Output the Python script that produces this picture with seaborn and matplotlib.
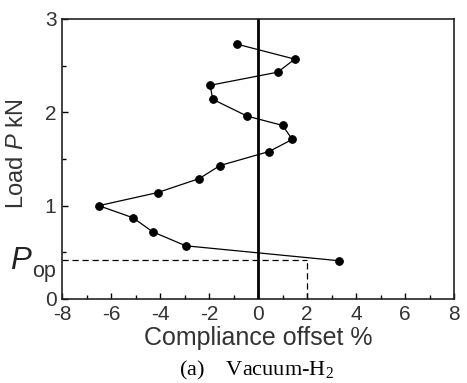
import matplotlib
matplotlib.use("Agg")
import matplotlib.pyplot as plt
import seaborn as sns
import pandas as pd
from matplotlib.ticker import MultipleLocator

# data
offset = [-0.85, 1.5, 0.8, -1.95, -1.85, -0.45, 1.0, 1.4, 0.45, -1.55, -2.4, -4.1, -6.5, -5.1, -4.3, -2.95, 3.3]
load = [2.73, 2.57, 2.43, 2.29, 2.14, 1.96, 1.86, 1.71, 1.58, 1.43, 1.29, 1.14, 1.0, 0.87, 0.72, 0.57, 0.41]
p_op = 0.42
p_op_offset = 2.0
x_ticks = [-8, -6, -4, -2, 0, 2, 4, 6, 8]
y_ticks = [0, 1, 2, 3]

sns.set_theme(style="ticks")
plt.rcParams['font.family'] = ['Liberation Sans', 'DejaVu Sans']
plt.rcParams['axes.unicode_minus'] = False
plt.rcParams['mathtext.fontset'] = 'custom'
plt.rcParams['mathtext.it'] = 'Liberation Sans:italic'
plt.rcParams['mathtext.rm'] = 'Liberation Sans'

W, H = 467, 383
fig = plt.figure(figsize=(W / 100, H / 100), dpi=100)
ax = fig.add_axes([62 / W, 1 - 299 / H, (454 - 62) / W, (299 - 19) / H])

df = pd.DataFrame({"offset": offset, "load": load})
sns.lineplot(data=df, x="offset", y="load", sort=False, estimator=None,
             color="black", lw=0.9, marker="o", markersize=5.5,
             markeredgecolor="black", ax=ax, zorder=4)

ax.axvline(0, color="black", lw=2.0, zorder=3)
ax.plot([-8, p_op_offset], [p_op, p_op], color="black", lw=0.9, ls=(0, (5, 3)), zorder=2)
ax.plot([p_op_offset, p_op_offset], [0, p_op], color="black", lw=0.9, ls=(0, (5, 3)), zorder=2)

ax.set_xlim(-8, 8)
ax.set_ylim(0, 3)
ax.set_xticks(x_ticks)
ax.set_yticks(y_ticks)
ax.xaxis.set_minor_locator(MultipleLocator(1))
ax.yaxis.set_minor_locator(MultipleLocator(0.5))
tc = "#333333"
ax.tick_params(which="both", direction="in", color="black", top=False, right=False)
ax.tick_params(which="major", length=4, width=1.0, labelsize=15, labelcolor=tc)
ax.tick_params(axis="x", which="major", pad=4.5)
ax.tick_params(axis="y", which="major", pad=4)
ax.tick_params(which="minor", length=3, width=1.0)
for s in ax.spines.values():
    s.set_color("#222222")
    s.set_linewidth(1.2)

ax.set_xlabel("Compliance offset %", fontsize=18, color=tc)
ax.xaxis.set_label_coords(0.5, (299 - 326) / 280)
ax.set_ylabel("Load $\\it{P}$ kN", fontsize=17, color=tc)
ax.yaxis.set_label_coords((28 - 62) / 392, 0.52)

fig.text(10 / W, 1 - 269 / H, "P", fontsize=22.5, style="italic", color="#222222",
         ha="left", va="baseline")
fig.text(32 / W, 1 - 276.5 / H, "op", fontsize=15.5, color="#333333",
         ha="left", va="baseline")

fig.text(256 / W, 1 - 375 / H, "(a)    Vacuum-H$_\\mathregular{2}$", fontsize=16,
         family="Liberation Serif", color="black", ha="center", va="baseline")

fig.savefig("out.png", dpi=100)
